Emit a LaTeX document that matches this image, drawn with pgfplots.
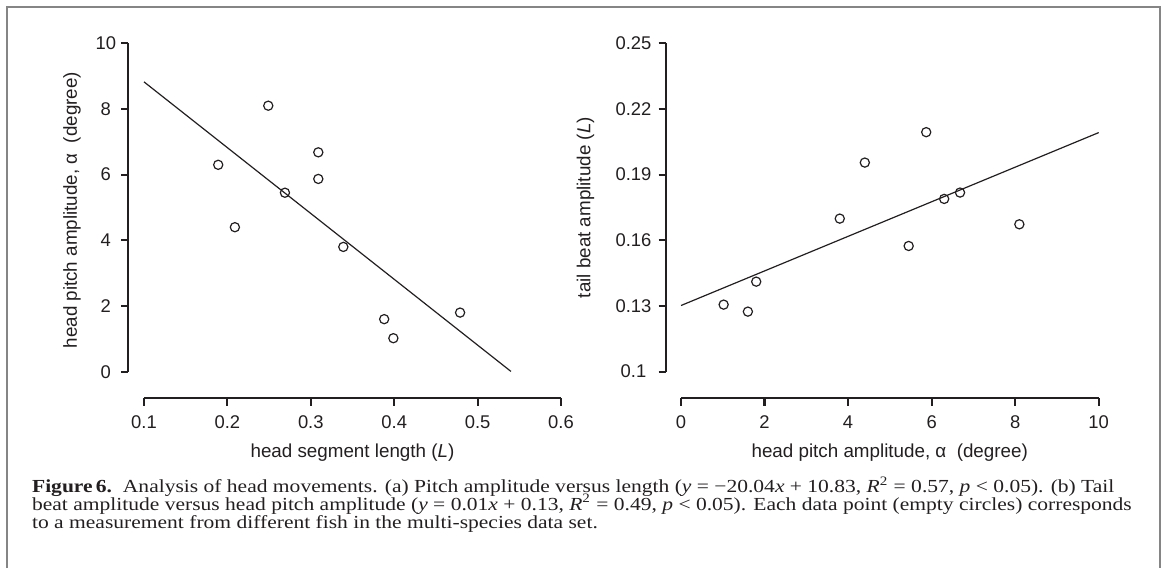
\documentclass[border=0pt]{standalone}
\usepackage{fontspec}
\setmainfont{Liberation Sans}
\newfontfamily\capfont[FakeStretch=1.17]{Liberation Serif}
\usepackage{pgfplots}
\pgfplotsset{compat=1.18}

\definecolor{ink}{HTML}{231F20}
\definecolor{framegray}{HTML}{858585}

% shared look of both panels (1 px of the reference = 0.5pt)
\pgfplotsset{
  fishaxis/.style={
    scale only axis,
    width=216.35pt, height=177.5pt,
    axis lines=left,
    axis line style={-, line width=1.1pt, color=ink},
    tick align=outside,
    major tick length=3.65pt,
    tick style={line width=1.1pt, color=ink},
    tick label style={font=\fontsize{9.2}{11}\selectfont, anchor=center, text=ink},
    label style={font=\fontsize{9.4}{11}\selectfont, text=ink},
    xticklabel style={yshift=-8.45pt},
    /pgf/number format/assume math mode=true,
    clip=false,
  },
  pts/.style={only marks, mark=o, mark size=2.3pt, mark options={line width=0.6pt, color=ink}},
  fit/.style={ink, line width=0.6pt, no marks},
}

\begin{document}
\begin{tikzpicture}
\useasboundingbox (0,0) rectangle (582.5pt,284pt);
\draw[framegray, line width=1pt] (3.35pt,0pt) -- (3.35pt,280.65pt) -- (579.75pt,280.65pt) -- (579.75pt,0pt);

% (a) pitch amplitude vs head segment length
\begin{axis}[fishaxis,
  at={(64.15pt,84.85pt)}, anchor=south west,
  xmin=0.0812, xmax=0.6, ymin=-0.81, ymax=10,
  x axis line style={shorten <=7.85pt},
  y axis line style={shorten <=13.3pt},
  xtick={0.1,0.2,0.3,0.4,0.5,0.6},
  xticklabels={0.1,0.2,0.3,0.4,0.5,0.6},
  ytick={0,2,4,6,8,10},
  yticklabels={0,2,4,6,8,10},
  yticklabel style={xshift=-7.6pt},
  xlabel={head segment length (\textit{L})},
  ylabel={head pitch amplitude, α\ \ (degree)},
  xlabel style={at={(axis description cs:0.518,-0.167)}, anchor=base},
  ylabel style={at={(axis description cs:-0.119,0.53)}, anchor=base},
]
\addplot[pts] coordinates {
  (0.189,6.30) (0.209,4.40) (0.249,8.10) (0.269,5.45) (0.309,6.68)
  (0.309,5.87) (0.339,3.80) (0.388,1.60) (0.399,1.02) (0.479,1.80)
};
\addplot[fit] coordinates {(0.1,8.826) (0.54,0.008)};
\end{axis}

% (b) tail beat amplitude vs head pitch amplitude
\begin{axis}[fishaxis,
  at={(333pt,84.85pt)}, anchor=south west,
  xmin=-0.36, xmax=10, ymin=0.0878, ymax=0.25,
  x axis line style={shorten <=7.5pt},
  y axis line style={shorten <=13.3pt},
  xtick={0,2,4,6,8,10},
  xticklabels={0,2,4,6,8,10},
  ytick={0.1,0.13,0.16,0.19,0.22,0.25},
  yticklabels={0.1,0.13,0.16,0.19,0.22,0.25},
  yticklabel style={xshift=-12.6pt},
  xlabel={head pitch amplitude, α\ \ (degree)},
  ylabel={tail beat amplitude (\textit{L})},
  xlabel style={at={(axis description cs:0.517,-0.167)}, anchor=base},
  ylabel style={at={(axis description cs:-0.175,0.537)}, anchor=base},
]
\addplot[pts] coordinates {
  (6.30,0.1789) (4.40,0.1955) (8.10,0.1673) (5.45,0.1574) (6.68,0.1818)
  (5.87,0.2094) (3.80,0.1699) (1.60,0.1274) (1.02,0.1306) (1.80,0.1411)
};
\addplot[fit] coordinates {(0,0.1302) (10,0.2092)};
\end{axis}

% caption, one node per printed line
\begin{scope}[every node/.style={anchor=base west, inner sep=0pt, text=ink, font=\capfont\fontsize{9.2}{10}\selectfont}]
\node at (15.85pt,37.65pt) {\textbf{Figure\,6.}\hspace{0.6em}Analysis of head movements. (a) Pitch amplitude versus length (\textit{y} = −20.04\textit{x} + 10.83, \textit{R}\textsuperscript{2} = 0.57, \textit{p} < 0.05). (b) Tail};
\node at (15.85pt,28.75pt) {beat amplitude versus head pitch amplitude (\textit{y} = 0.01\textit{x} + 0.13, \textit{R}\textsuperscript{2} = 0.49, \textit{p} < 0.05). Each data point (empty circles) corresponds};
\node at (15.85pt,19.85pt) {to a measurement from different fish in the multi-species data set.};
\end{scope}
\end{tikzpicture}
\end{document}
